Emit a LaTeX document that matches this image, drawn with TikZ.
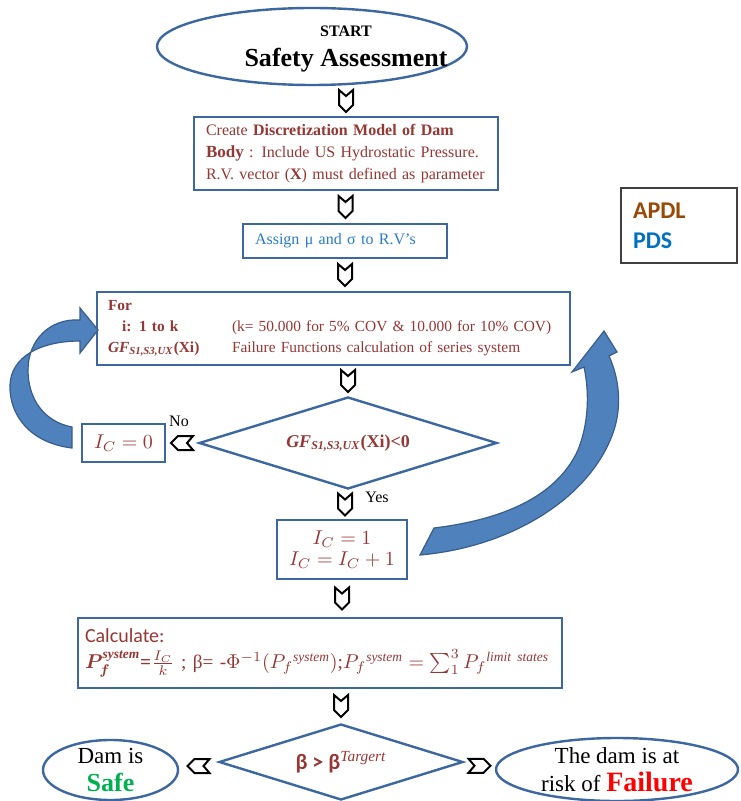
\documentclass[tikz,border=0pt]{standalone}
\usepackage{fontspec}
\setmainfont{Liberation Serif}
\newfontfamily\calibri{Carlito}
\usepackage{amsmath,bm}
\usetikzlibrary{shapes.geometric, calc}
\definecolor{dkred}{HTML}{953735}
\definecolor{boxblue}{HTML}{3C67A0}
\definecolor{arrfill}{HTML}{4F81BD}
\definecolor{arrline}{HTML}{385D8A}
\definecolor{txtblue}{HTML}{2A7BC8}
\definecolor{apdlbrown}{HTML}{984807}
\definecolor{pdsblue}{HTML}{0070C0}
\definecolor{safegreen}{HTML}{00B050}
\newcommand{\gfsub}{\textbf{\textit{GF}}\textsubscript{\textbf{\textit{S1,S3,UX}}}}

\begin{document}
\begin{tikzpicture}[x=0.5pt, y=-0.5pt,
  block/.style={draw=boxblue, line width=1.2pt, fill=white, inner sep=0pt},
  term/.style={ellipse, draw=boxblue, line width=1.2pt, inner sep=0pt, align=center},
  decide/.style={diamond, draw=boxblue, line width=1.2pt, inner sep=0pt, aspect=3.2},
  chevline/.style={draw=black, fill=white, line width=1pt, line join=miter},
  bigarr/.style={fill=arrfill, draw=arrline, line width=0.6pt},
  lbl/.style={font=\fontsize{8}{9}\selectfont},
  chev/.pic={\path[chevline] (-7,-11) -- (0,-5) -- (7,-11) -- (7,4) -- (0,11) -- (-7,4) -- cycle;}
]
  \useasboundingbox (0,0) rectangle (740,801);

  % Start
  \node[term, minimum width=155pt, minimum height=38.5pt,
        label={[xshift=17pt, yshift=-1.5pt, align=center, font=\bfseries]center:{{\fontsize{8}{9}\selectfont START}\\[3pt]
          {\fontsize{13}{14}\selectfont Safety Assessment}}}] (start) at (312,46.5) {};

  % Model and variables
  \node[block, minimum height=36.5pt, inner xsep=6pt, text width=140pt, align=left,
        text=dkred, font=\fontsize{8}{11}\selectfont] (disc) at (346,153.5)
    {Create \textbf{Discretization Model of Dam}\\
     {\fontsize{8.5}{11}\selectfont\textbf{Body}} : Include US Hydrostatic Pressure.\\
     R.V. vector (\textbf{X}) must defined as parameter};
  \node[block, minimum height=17pt, inner xsep=6pt, text width=90pt, align=left,
        text=txtblue, font=\fontsize{8}{10}\selectfont] (assign) at (345,241)
    {Assign μ and σ to R.V’s};

  % Legend
  \node[draw=black!75, line width=0.6pt, minimum height=37.5pt, inner xsep=6pt, text width=46pt,
        align=left, font=\calibri\bfseries\fontsize{12}{15}\selectfont] (legend) at (679,225.5)
    {\textcolor{apdlbrown}{APDL}\\ \textcolor{pdsblue}{PDS}};

  % Loop
  \node[block, minimum height=36.5pt, inner xsep=5.5pt, text width=225.5pt, align=left,
        text=dkred, font=\fontsize{7.7}{10.5}\selectfont] (for) at (333.5,328.5)
    {\textbf{For}\\
     \mbox{\makebox[62pt][l]{\hspace{7pt}\textbf{i: 1 to k}}(k= 50.000 for 5\% COV \& 10.000 for 10\% COV)}\\
     \mbox{\makebox[62pt][l]{\gfsub\textbf{(Xi)}}Failure Functions calculation of series system}};
  \node[decide, minimum width=149pt, minimum height=46pt, text=dkred,
        font=\fontsize{9}{10}\selectfont] (test) at (348,443)
    {\gfsub\textbf{(Xi)<0}};
  \node[block, minimum width=41.5pt, minimum height=19pt, text=dkred,
        font=\fontsize{10}{12}\selectfont] (ic0) at (123.5,443) {$I_C = 0$};
  \node[block, minimum width=65pt, minimum height=29.5pt, align=center, text=dkred,
        font=\fontsize{10}{10.5}\selectfont] (ic1) at (342,549.5) {$I_C = 1$\\ $I_C = I_C + 1$};
  \node[lbl] (no) at (179,421) {No};
  \node[lbl] (yes) at (377,497) {Yes};

  % Result
  \node[block, minimum height=35pt, inner xsep=3.5pt, text width=235pt, align=left,
        text=dkred, font=\fontsize{9.6}{13}\selectfont] (calc) at (320,653)
    {{\calibri\fontsize{10}{12}\selectfont Calculate:}\\
     \mbox{$\bm{P_f}^{\text{\bfseries\itshape system}}$\textbf{=}$\tfrac{I_C}{k}$ ; β= -$\Phi^{-1}(P_f{}^{\mathit{system}})$;$P_f{}^{\mathit{system}} = \sum_1^3 P_f{}^{\mathit{limit\ states}}$}};
  \node[decide, minimum width=122pt, minimum height=38pt, text=dkred,
        font=\calibri\bfseries\fontsize{11}{12}\selectfont] (beta) at (341,762)
    {β > β\textsuperscript{\normalfont\itshape Targert}};
  \node[term, minimum width=67.5pt, minimum height=30pt,
        label={[align=center, font=\fontsize{11.5}{14}\selectfont]center:{Dam is\\
          \textcolor{safegreen}{\bfseries\fontsize{13}{14}\selectfont Safe}}}] (safe) at (110.5,770) {};
  \node[term, minimum width=121pt, minimum height=31.5pt,
        label={[align=center, font=\fontsize{11.5}{14}\selectfont]center:{The dam is at\\
          risk of \textcolor{red}{\bfseries\fontsize{14}{14}\selectfont Failure}}}] (fail) at (617,769.5) {};

  % Chevrons
  \pic at ($(start.south -| disc.north)!0.5!(disc.north)$) {chev};
  \pic at ($(disc.south)!0.5!(assign.north)$) {chev};
  \pic at ($(assign.south)!0.5!(assign.south |- for.north)$) {chev};
  \pic at ($(for.south -| test.north)!0.5!(test.north)$) {chev};
  \pic at ($(test.south)!0.5!(ic1.north)$) {chev};
  \pic at ($(ic1.south)!0.5!(ic1.south |- calc.north)$) {chev};
  \pic at ($(calc.south -| beta.north)!0.5!(beta.north)$) {chev};
  \pic[rotate=-90] at ($(test.west)!0.5!(ic0.east)$) {chev};
  \pic[rotate=-90] at ($(beta.west)!0.5!(safe.east)$) {chev};
  \pic[rotate=90] at ($(beta.east)!0.5!(fail.west)$) {chev};

  % Loop-back arrows
  \path[bigarr] (72,448) .. controls (30,443) and (9,415) .. (10,385)
    .. controls (11,357) and (40,341) .. (80,341) -- (80,353) -- (98,330) -- (80,308) -- (80,320)
    .. controls (50,318) and (28,340) .. (28,370) .. controls (28,400) and (45,422) .. (72,427) -- cycle;
  \path[bigarr] (420,555) .. controls (512,547) and (592,497) .. (614,430)
    .. controls (622,405) and (619,378) .. (609,356) -- (617,352) -- (604,331) -- (572,372) -- (584,367)
    .. controls (590,395) and (588,425) .. (578,450) .. controls (556,498) and (500,520) .. (434,528) -- cycle;
\end{tikzpicture}
\end{document}
